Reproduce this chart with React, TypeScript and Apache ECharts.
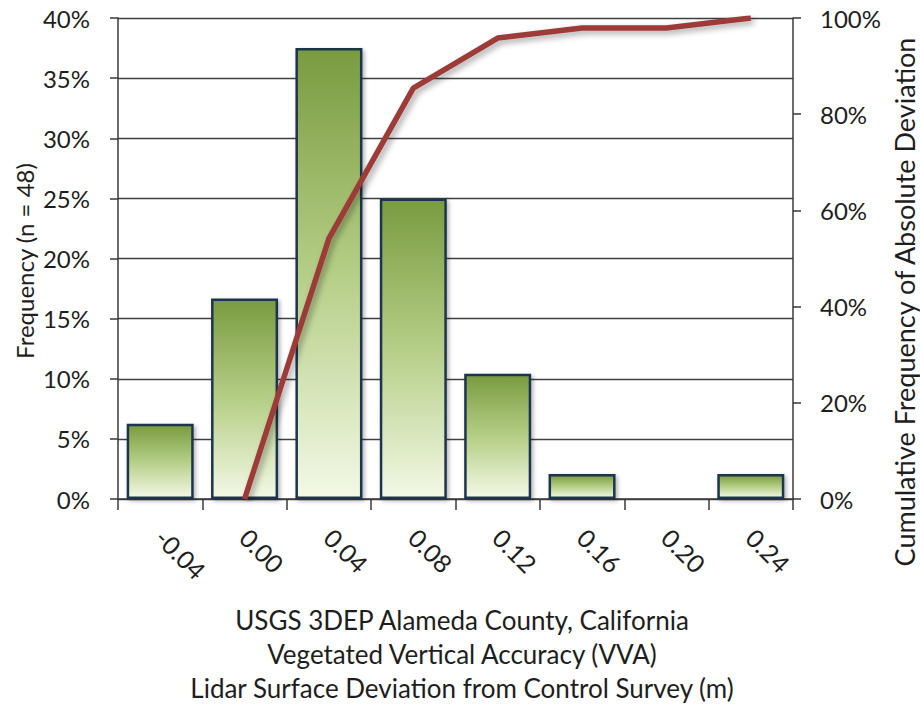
import React, { useEffect, useRef } from "react";
import * as echarts from "echarts";

// ---- Data ----
const categories: string[] = ["-0.04", "0.00", "0.04", "0.08", "0.12", "0.16", "0.20", "0.24"];
// Histogram frequency (% of n = 48)
const frequency: number[] = [6.25, 16.67, 37.5, 25.0, 10.42, 2.08, 0, 2.08];
// Cumulative frequency of absolute deviation (%)
const cumulative: (number | null)[] = [null, 0, 54.17, 85.42, 95.83, 97.92, 97.92, 100];

const leftTicks = { min: 0, max: 40, interval: 5 };
const rightTicks = { min: 0, max: 100, interval: 20 };

const leftTitle = "Frequency (n = 48)";
const rightTitle = "Cumulative Frequency of Absolute Deviation";
const bottomTitle = [
  "USGS 3DEP Alameda County, California",
  "Vegetated Vertical Accuracy (VVA)",
  "Lidar Surface Deviation from Control Survey (m)",
];

const FONT = "Lato, 'Open Sans', sans-serif";
const TEXT = "#1e1e1e";
const AXIS = "#3a3a3a";

export default function App() {
  const ref = useRef<HTMLDivElement>(null);

  useEffect(() => {
    if (!ref.current) return;
    const chart = echarts.init(ref.current, null, { renderer: "svg" });

    const barGradient = new echarts.graphic.LinearGradient(0, 0, 0, 1, [
      { offset: 0, color: "#7a9b40" },
      { offset: 0.5, color: "#b5ce86" },
      { offset: 1, color: "#f3f9e6" },
    ]);

    chart.setOption({
      animation: false,
      backgroundColor: "#ffffff",
      textStyle: { fontFamily: FONT },
      grid: { left: 118, right: 127, top: 18, bottom: 212, containLabel: false },
      xAxis: {
        type: "category",
        data: categories,
        boundaryGap: true,
        axisLine: { show: true, lineStyle: { color: AXIS, width: 1.5 } },
        axisTick: { show: true, length: 11, interval: 0, lineStyle: { color: AXIS, width: 1.5 } },
        axisLabel: {
          interval: 0,
          rotate: -45,
          margin: 34,
          fontSize: 25,
          fontFamily: FONT,
          color: TEXT,
        },
        splitLine: { show: false },
      },
      yAxis: [
        {
          type: "value",
          min: leftTicks.min,
          max: leftTicks.max,
          interval: leftTicks.interval,
          position: "left",
          axisLine: { show: true, lineStyle: { color: AXIS, width: 1.5 } },
          axisTick: { show: true, length: 8, lineStyle: { color: AXIS, width: 1.5 } },
          axisLabel: {
            formatter: "{value}%",
            margin: 28,
            fontSize: 24,
            fontFamily: FONT,
            color: TEXT,
          },
          splitLine: { show: true, lineStyle: { color: "#404040", width: 1.3 } },
        },
        {
          type: "value",
          min: rightTicks.min,
          max: rightTicks.max,
          interval: rightTicks.interval,
          position: "right",
          axisLine: { show: true, lineStyle: { color: AXIS, width: 1.5 } },
          axisTick: { show: true, length: 8, lineStyle: { color: AXIS, width: 1.5 } },
          axisLabel: {
            formatter: "{value}%",
            margin: 27,
            fontSize: 24,
            fontFamily: FONT,
            color: TEXT,
          },
          splitLine: { show: false },
        },
      ],
      graphic: [
        {
          type: "text",
          x: 24,
          y: 261,
          rotation: Math.PI / 2,
          style: {
            text: leftTitle,
            fontSize: 24,
            fontFamily: FONT,
            fill: TEXT,
            align: "center",
            verticalAlign: "middle",
          },
        },
        {
          type: "text",
          x: 904,
          y: 302,
          rotation: Math.PI / 2,
          style: {
            text: rightTitle,
            fontSize: 27,
            fontFamily: FONT,
            fill: TEXT,
            align: "center",
            verticalAlign: "middle",
          },
        },
        {
          type: "text",
          x: 462,
          y: 654,
          style: {
            text: bottomTitle.join("\n"),
            fontSize: 26,
            lineHeight: 34,
            fontFamily: FONT,
            fill: TEXT,
            align: "center",
            verticalAlign: "middle",
          },
        },
      ],
      series: [
        {
          name: "Frequency",
          type: "bar",
          yAxisIndex: 0,
          data: frequency,
          barWidth: 67,
          itemStyle: {
            color: barGradient,
            borderColor: "#1f3550",
            borderWidth: 2.5,
            shadowColor: "rgba(0,0,0,0.3)",
            shadowBlur: 4,
            shadowOffsetX: 2,
            shadowOffsetY: 2,
          },
          z: 2,
        },
        {
          name: "Cumulative",
          type: "line",
          yAxisIndex: 1,
          data: cumulative,
          symbol: "none",
          connectNulls: false,
          lineStyle: {
            color: "#9c3b38",
            width: 5.5,
            shadowColor: "rgba(0,0,0,0.35)",
            shadowBlur: 6,
            shadowOffsetX: 3,
            shadowOffsetY: 3,
          },
          z: 3,
        },
      ],
    });

    return () => {
      chart.dispose();
    };
  }, []);

  return (
    <div
      ref={ref}
      style={{ position: "fixed", left: 0, top: 0, width: 920, height: 711, background: "#fff" }}
    />
  );
}
